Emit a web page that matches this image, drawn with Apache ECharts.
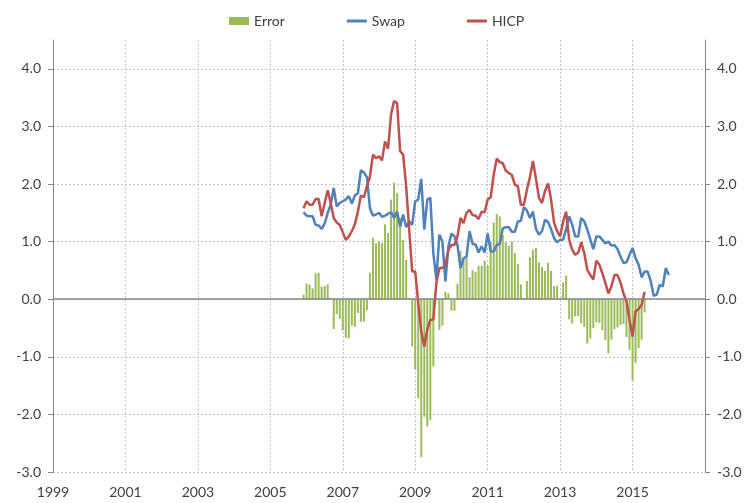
<!DOCTYPE html>
<html>
<head>
<meta charset="utf-8">
<script src="https://cdn.jsdelivr.net/npm/echarts@6/dist/echarts.min.js"></script>
<style>
  html, body { margin: 0; padding: 0; background: #ffffff; }
  #chart { width: 745px; height: 503px; }
</style>
</head>
<body>
<div id="chart"></div>
<script>
// Monthly observations, first month = December 2005
const startYear = 2005;
const startMonth = 12;

const seriesNames = ['Error', 'Swap', 'HICP'];
const xTickYears = [1999, 2001, 2003, 2005, 2007, 2009, 2011, 2013, 2015];
const yTicks = [-3, -2, -1, 0, 1, 2, 3, 4];

const errorValues = [
  0.08, 0.27, 0.25, 0.19, 0.45, 0.46, 0.22, 0.23, 0.26, 0.02,
  -0.52, -0.26, -0.34, -0.54, -0.67, -0.68, -0.46, -0.48, -0.24, -0.39,
  -0.39, -0.19, 0.46, 1.06, 0.97, 1.00, 0.97, 1.30, 1.15, 1.73,
  2.02, 1.84, 1.41, 1.03, 0.68, 0.02, -0.82, -1.22, -1.72, -2.74,
  -2.04, -2.21, -2.10, -1.17, -0.02, -0.53, -0.46, 0.13, 0.10, -0.20,
  -0.20, 0.27, 0.84, 0.69, 0.71, 0.38, 0.50, 0.47, 0.58, 0.58,
  0.67, 0.58, 1.00, 1.33, 1.48, 1.44, 1.12, 0.99, 0.93, 1.00,
  0.80, 0.61, 0.26, 0.02, 0.32, 0.73, 0.86, 0.89, 0.64, 0.56,
  0.49, 0.63, 0.49, 0.23, 0.23, 0.00, 0.29, 0.41, -0.35, -0.42,
  -0.30, -0.29, -0.42, -0.48, -0.77, -0.68, -0.50, -0.40, -0.41, -0.54,
  -0.71, -0.94, -0.70, -0.52, -0.49, -0.45, -0.43, -0.66, -0.88, -1.41,
  -1.11, -0.85, -0.70, -0.23
];

const swapValues = [
  1.51, 1.45, 1.44, 1.44, 1.29, 1.28, 1.22, 1.31, 1.50, 1.64,
  1.93, 1.61, 1.67, 1.70, 1.73, 1.79, 1.66, 1.80, 1.84, 2.24,
  2.20, 2.12, 1.58, 1.45, 1.47, 1.50, 1.43, 1.45, 1.48, 1.51,
  1.41, 1.52, 1.26, 1.47, 1.25, 1.35, 1.29, 1.70, 1.73, 2.09,
  1.21, 1.73, 1.76, 0.80, 0.34, 1.12, 1.00, 0.31, 0.92, 1.14,
  1.09, 0.94, 0.54, 0.71, 0.74, 1.18, 0.96, 0.95, 0.81, 0.92,
  0.81, 1.14, 0.83, 0.83, 0.94, 0.96, 1.23, 1.25, 1.25, 1.17,
  1.17, 1.35, 1.36, 1.60, 1.54, 1.41, 1.52, 1.22, 1.12, 1.18,
  1.38, 1.34, 1.22, 1.06, 0.99, 1.03, 1.03, 1.22, 1.44, 1.29,
  1.09, 1.09, 1.41, 1.35, 1.21, 1.04, 0.87, 1.09, 1.09, 1.03,
  0.97, 1.00, 0.93, 0.94, 0.87, 0.74, 0.63, 0.64, 0.77, 0.89,
  0.71, 0.60, 0.38, 0.48, 0.48, 0.32, 0.06, 0.08, 0.25, 0.22,
  0.54, 0.42
];

const hicpValues = [
  1.58, 1.70, 1.64, 1.64, 1.74, 1.74, 1.44, 1.67, 1.89, 1.67,
  1.41, 1.33, 1.29, 1.16, 1.03, 1.09, 1.18, 1.30, 1.52, 1.80,
  1.77, 1.96, 2.13, 2.51, 2.45, 2.48, 2.41, 2.74, 2.61, 3.21,
  3.44, 3.40, 2.57, 2.51, 1.96, 1.21, 0.48, 0.48, -0.07, -0.56,
  -0.82, -0.53, -0.36, -0.35, 0.28, 0.54, 0.54, 0.60, 0.86, 0.94,
  0.94, 1.09, 1.41, 1.32, 1.50, 1.55, 1.46, 1.45, 1.39, 1.52,
  1.51, 1.73, 1.77, 2.16, 2.44, 2.38, 2.36, 2.23, 2.19, 2.16,
  1.99, 1.96, 1.64, 1.64, 1.90, 2.12, 2.40, 2.09, 1.76, 1.67,
  1.88, 2.01, 1.73, 1.33, 1.18, 1.09, 1.35, 1.52, 1.03, 0.86,
  0.77, 0.81, 0.99, 0.80, 0.51, 0.42, 0.34, 0.67, 0.60, 0.45,
  0.28, 0.10, 0.22, 0.42, 0.42, 0.29, 0.10, -0.04, -0.36, -0.65,
  -0.21, -0.17, -0.10, 0.13
];

// date (decimal year) of the i-th monthly observation
function monthPos(i) {
  return startYear + (startMonth - 1 + i) / 12;
}
function toPairs(values) {
  return values.map(function (v, i) { return [monthPos(i), v]; });
}

const FONT = 'Lato';
const TXT = '#404040';
const GRID_COLOR = '#c4c4c4';
const AXIS_COLOR = '#868686';
const LINE_ICON = 'path://M0,0 L20,0 L20,3 L0,3 Z';

const chart = echarts.init(document.getElementById('chart'), null, { renderer: 'canvas' });

const yAxisBase = {
  type: 'value',
  min: yTicks[0],
  max: 4.5,
  interval: 1,
  axisLine: { show: true, lineStyle: { color: AXIS_COLOR, width: 1 } },
  axisTick: { show: true, length: 5, lineStyle: { color: AXIS_COLOR } },
  axisLabel: {
    fontFamily: FONT, fontSize: 14, color: TXT, margin: 12,
    showMaxLabel: false,
    formatter: function (v) { return yTicks.indexOf(v) >= 0 ? v.toFixed(1) : ''; }
  }
};

chart.setOption({
  animation: false,
  textStyle: { fontFamily: FONT },
  grid: { left: 53, right: 40, top: 40, bottom: 31, containLabel: false },
  legend: {
    left: 224,
    top: 9,
    itemWidth: 20,
    itemHeight: 8,
    itemGap: 62,
    symbolKeepAspect: true,
    textStyle: { fontFamily: FONT, fontSize: 14, color: TXT },
    data: [
      { name: seriesNames[0], icon: 'rect' },
      { name: seriesNames[1], icon: LINE_ICON },
      { name: seriesNames[2], icon: LINE_ICON }
    ]
  },
  xAxis: {
    type: 'value',
    min: xTickYears[0],
    max: 2017,
    interval: 2,
    axisLine: { show: false, onZero: false },
    axisTick: { show: false },
    axisLabel: {
      fontFamily: FONT, fontSize: 14, color: TXT, margin: 13,
      showMaxLabel: false,
      formatter: function (v) { return xTickYears.indexOf(v) >= 0 ? String(v) : ''; }
    },
    splitLine: {
      show: true, showMinLine: false, showMaxLine: false,
      lineStyle: { color: GRID_COLOR, type: [2, 2], width: 1 }
    }
  },
  yAxis: [
    Object.assign({}, yAxisBase, {
      position: 'left',
      splitLine: {
        show: true, showMinLine: true, showMaxLine: false,
        lineStyle: { color: GRID_COLOR, type: [2, 2], width: 1 }
      }
    }),
    Object.assign({}, yAxisBase, {
      position: 'right',
      splitLine: { show: false }
    })
  ],
  series: [
    {
      name: seriesNames[0],
      type: 'bar',
      barWidth: 2,
      itemStyle: { color: '#9BBB59' },
      data: toPairs(errorValues),
      z: 2,
      markLine: {
        silent: true,
        symbol: 'none',
        label: { show: false },
        lineStyle: { color: AXIS_COLOR, type: 'solid', width: 1.5 },
        data: [{ yAxis: 0 }]
      }
    },
    {
      name: seriesNames[1],
      type: 'line',
      symbol: 'none',
      showSymbol: false,
      lineStyle: { color: '#4F81BD', width: 2.5 },
      itemStyle: { color: '#4F81BD' },
      data: toPairs(swapValues),
      z: 3
    },
    {
      name: seriesNames[2],
      type: 'line',
      symbol: 'none',
      showSymbol: false,
      lineStyle: { color: '#C0504D', width: 2.5 },
      itemStyle: { color: '#C0504D' },
      data: toPairs(hicpValues),
      z: 4
    }
  ]
});
</script>
</body>
</html>
